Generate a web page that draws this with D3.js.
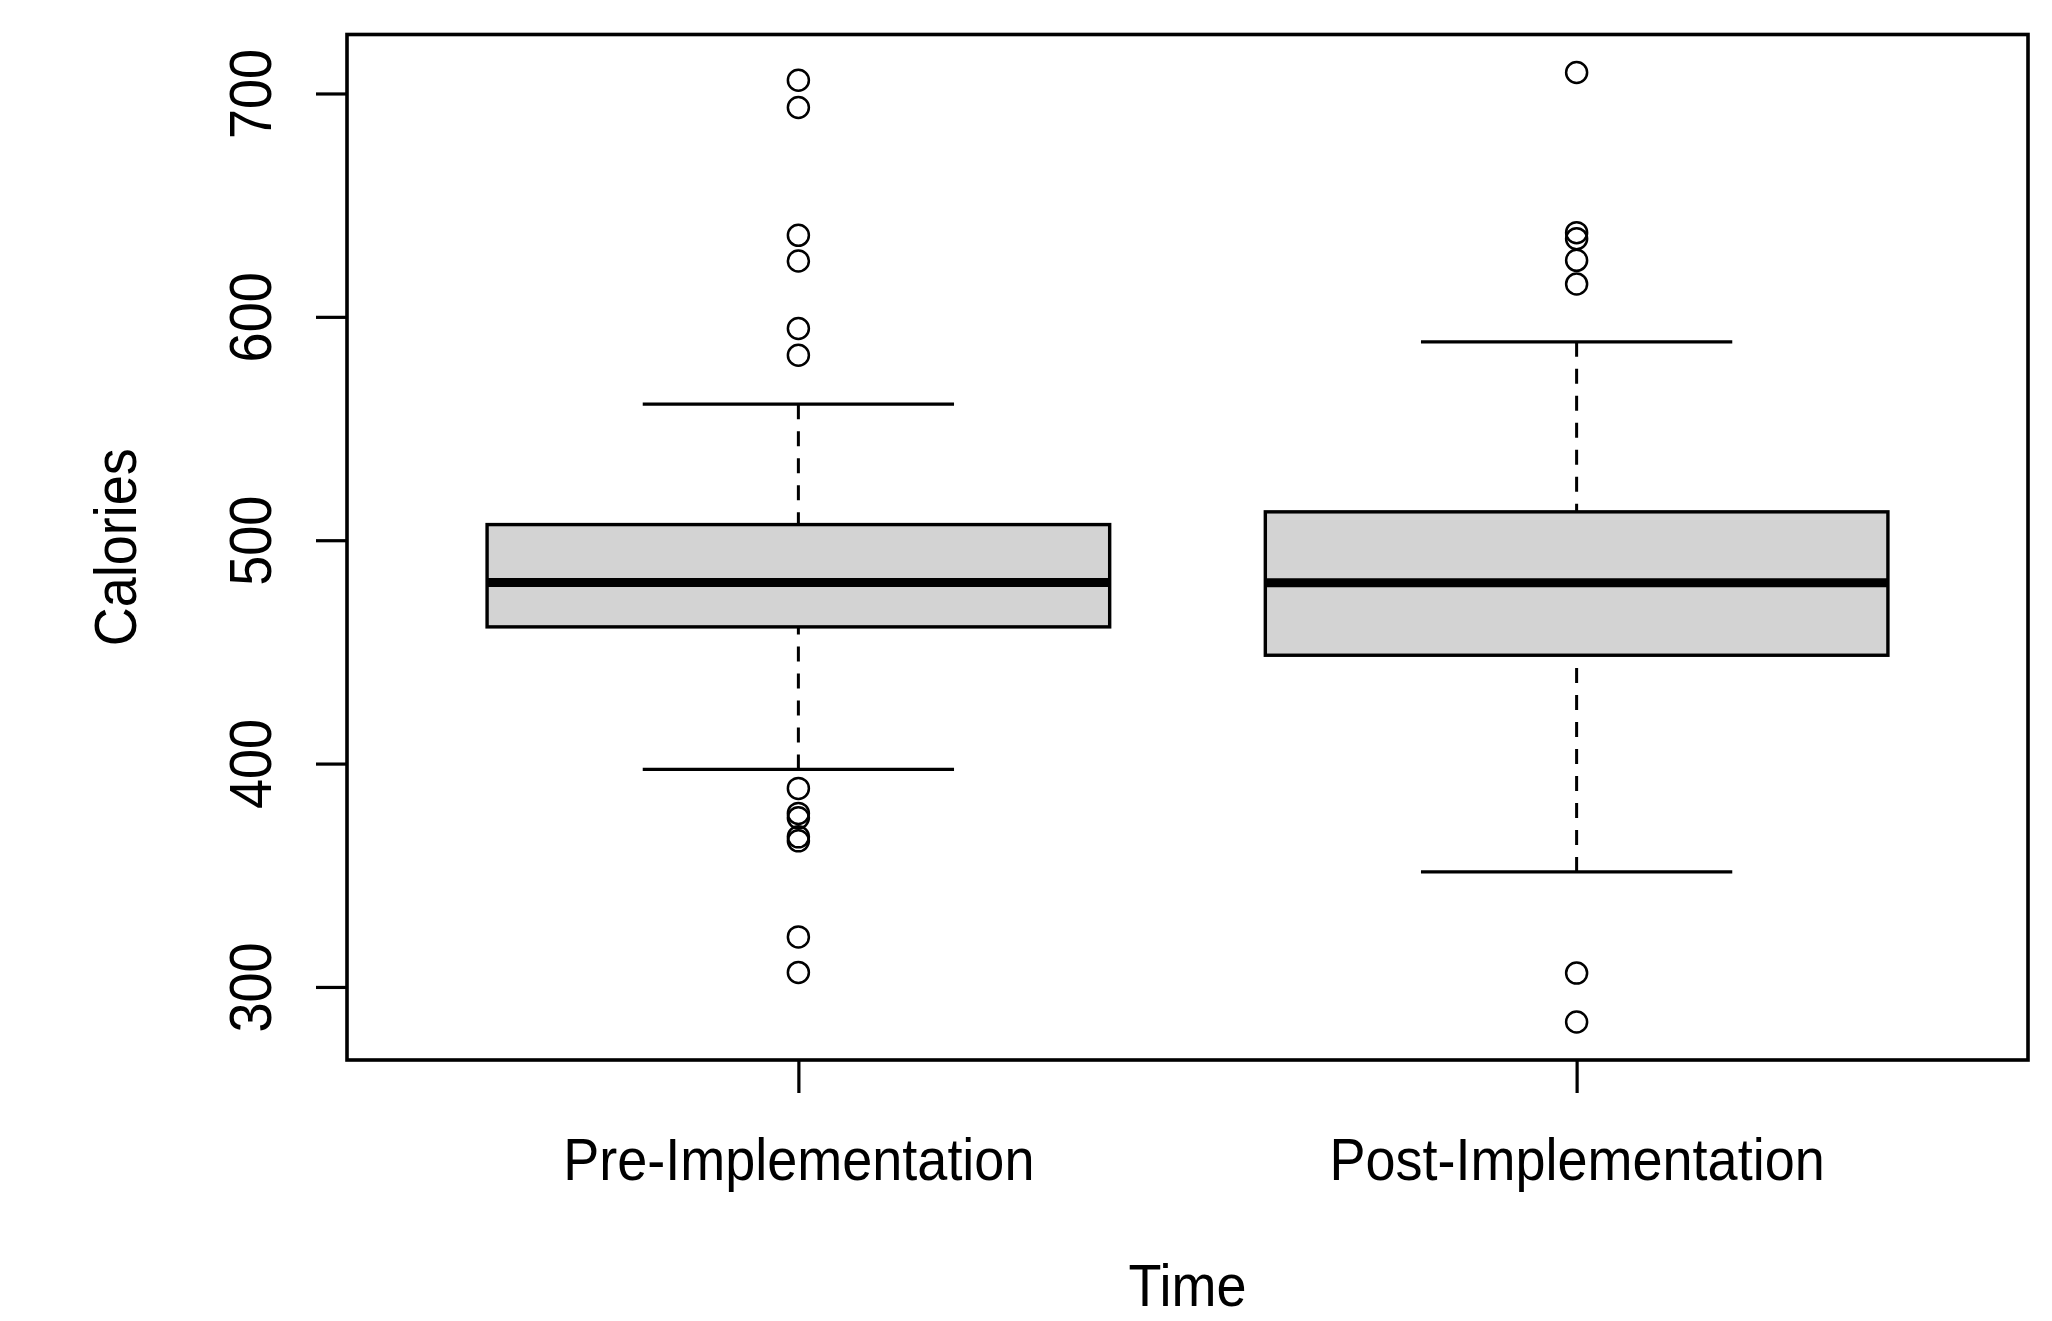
<!DOCTYPE html>
<html>
<head>
<meta charset="utf-8">
<script src="https://cdn.jsdelivr.net/npm/d3@7"></script>
<style>
    html, body { margin: 0; padding: 0; background: #fff; }
    svg text { font-family: "Liberation Sans", Arial, sans-serif; fill: #000; }
</style>
</head>
<body>
<svg id="chart" width="2052" height="1321"></svg>
<script>
// values
const categories = ['Pre-Implementation', 'Post-Implementation'];
const whiskerLow = [397.4, 351.5];
const q1 = [461.2, 448.5];
const median = [481.1, 481.0];
const q3 = [507.0, 512.7];
const whiskerHigh = [560.9, 588.8];
const outliersPre = [705.9, 693.7, 636.5, 625.0, 594.8, 582.8, 388.9, 377.7, 375.7, 367.2, 365.4, 322.4, 306.5];
const outliersPost = [709.4, 637.7, 635.0, 625.3, 614.7, 306.2, 284.3];
const yTicks = [300, 400, 500, 600, 700];

const outliers = [outliersPre, outliersPost];
const plot = {left: 347, right: 2028, top: 34.5, bottom: 1060};
const fontSize = 54;
const stretch = 1.1; // reference glyphs are a bit taller than Arial
const boxWidth = 0.8;
const stapleWidth = 0.4;

const svg = d3.select('#chart');

const allValues = d3.merge([whiskerLow, whiskerHigh, ...outliers]);
const [lo, hi] = d3.extent(allValues);
const pad = (hi - lo) * 0.04;

const y = d3.scaleLinear()
    .domain([lo - pad, hi + pad])
    .range([plot.bottom, plot.top]);

const x = d3.scaleLinear()
    .domain([0.5 - 0.08, categories.length + 0.5 + 0.08])
    .range([plot.left, plot.right]);

const boxes = categories.map((name, i) => ({
    name,
    pos: i + 1,
    low: whiskerLow[i],
    q1: q1[i],
    median: median[i],
    q3: q3[i],
    high: whiskerHigh[i],
    out: outliers[i]
}));

const g = svg.selectAll('g.box')
    .data(boxes)
    .enter()
    .append('g')
    .attr('class', 'box');

// whiskers, dashed from the staple towards the box
g.append('line')
    .attr('x1', d => x(d.pos)).attr('x2', d => x(d.pos))
    .attr('y1', d => y(d.high)).attr('y2', d => y(d.q3))
    .attr('stroke', '#000').attr('stroke-width', 3)
    .attr('stroke-dasharray', '15,12');
g.append('line')
    .attr('x1', d => x(d.pos)).attr('x2', d => x(d.pos))
    .attr('y1', d => y(d.low)).attr('y2', d => y(d.q1))
    .attr('stroke', '#000').attr('stroke-width', 3)
    .attr('stroke-dasharray', '15,12');

// staples
['low', 'high'].forEach(key => {
    g.append('line')
        .attr('x1', d => x(d.pos - stapleWidth / 2))
        .attr('x2', d => x(d.pos + stapleWidth / 2))
        .attr('y1', d => y(d[key])).attr('y2', d => y(d[key]))
        .attr('stroke', '#000').attr('stroke-width', 3.2);
});

// box
g.append('rect')
    .attr('x', d => x(d.pos - boxWidth / 2))
    .attr('width', d => x(d.pos + boxWidth / 2) - x(d.pos - boxWidth / 2))
    .attr('y', d => y(d.q3))
    .attr('height', d => y(d.q1) - y(d.q3))
    .attr('fill', '#d3d3d3')
    .attr('stroke', '#000').attr('stroke-width', 3.4);

// median
g.append('line')
    .attr('x1', d => x(d.pos - boxWidth / 2))
    .attr('x2', d => x(d.pos + boxWidth / 2))
    .attr('y1', d => y(d.median)).attr('y2', d => y(d.median))
    .attr('stroke', '#000').attr('stroke-width', 9);

// outliers
g.selectAll('circle')
    .data(d => d.out.map(v => ({pos: d.pos, v})))
    .enter()
    .append('circle')
    .attr('cx', d => x(d.pos))
    .attr('cy', d => y(d.v))
    .attr('r', 10.5)
    .attr('fill', 'none')
    .attr('stroke', '#000').attr('stroke-width', 2.5);

// frame
svg.append('rect')
    .attr('x', plot.left).attr('y', plot.top)
    .attr('width', plot.right - plot.left)
    .attr('height', plot.bottom - plot.top)
    .attr('fill', 'none')
    .attr('stroke', '#000').attr('stroke-width', 3.6);

// y axis
const yAxis = svg.append('g')
    .attr('transform', `translate(${plot.left},0)`)
    .call(d3.axisLeft(y).tickValues(yTicks).tickSize(31).tickFormat(d3.format('d')));
yAxis.select('.domain').remove();
yAxis.selectAll('.tick line').attr('stroke', '#000').attr('stroke-width', 3.2);
yAxis.selectAll('.tick text')
    .attr('x', 0).attr('y', 0).attr('dy', 0)
    .attr('text-anchor', 'middle')
    .attr('transform', `rotate(-90) translate(0,-76) scale(1,${stretch})`)
    .style('font-size', fontSize + 'px')
    .style('font-family', '"Liberation Sans", Arial, sans-serif')
    .attr('fill', '#000');

// x axis
const xAxis = svg.append('g')
    .attr('transform', `translate(0,${plot.bottom})`)
    .call(d3.axisBottom(x).tickValues(boxes.map(d => d.pos)).tickSize(33)
        .tickFormat(p => categories[p - 1]));
xAxis.select('.domain').remove();
xAxis.selectAll('.tick line').attr('stroke', '#000').attr('stroke-width', 3.2);
xAxis.selectAll('.tick text')
    .attr('x', 0).attr('y', 0).attr('dy', 0)
    .attr('text-anchor', 'middle')
    .attr('transform', `translate(0,120) scale(1,${stretch})`)
    .style('font-size', fontSize + 'px')
    .style('font-family', '"Liberation Sans", Arial, sans-serif')
    .attr('fill', '#000');

// axis titles
svg.append('text')
    .attr('text-anchor', 'middle')
    .attr('transform', `translate(${(plot.left + plot.right) / 2},1306) scale(1,${stretch})`)
    .style('font-size', fontSize + 'px')
    .text('Time');

svg.append('text')
    .attr('text-anchor', 'middle')
    .attr('transform', `translate(136,${(plot.top + plot.bottom) / 2}) rotate(-90) scale(1,${stretch})`)
    .style('font-size', fontSize + 'px')
    .text('Calories');
</script>
</body>
</html>
